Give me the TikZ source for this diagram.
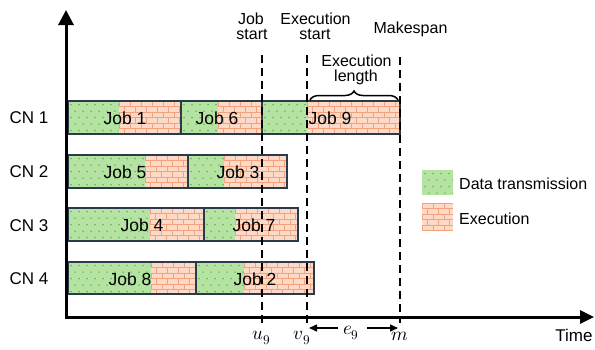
\documentclass[tikz,border=0pt]{standalone}
\usepackage{unicode-math}
\setmainfont{Liberation Sans}
\setmathfont{Latin Modern Math}
\usetikzlibrary{arrows.meta,decorations.pathreplacing}
\definecolor{dtg}{HTML}{B4E3A2}
\definecolor{dtdot}{HTML}{4E9F4E}
\definecolor{exfill}{HTML}{FDDAC8}
\definecolor{exline}{HTML}{F2A27C}
\definecolor{jobline}{HTML}{2B3A4A}
\newcommand\dtbox[4]{%
 \begin{scope}
  \clip (#1,#3) rectangle (#2,#4);
  \fill[dtg] (#1,#3) rectangle (#2,#4);
  \pgfmathtruncatemacro\nn{(#2-#1)/8+1}
  \foreach \j in {0,...,4}{\foreach \i in {0,...,\nn}{
    \fill[dtdot] ({#1+3+\i*8+mod(\j,2)*4},{#3+3.5+\j*6.5}) circle[radius=0.75pt];}}
 \end{scope}}
\newcommand\exbox[4]{%
 \begin{scope}
  \clip (#1,#3) rectangle (#2,#4);
  \fill[exfill] (#1,#3) rectangle (#2,#4);
  \pgfmathtruncatemacro\nn{(#2-#1)/11+1}
  \foreach \j in {0,...,5}{
    \draw[exline,line width=1pt] (#1,{#3+\j*5.5}) -- (#2,{#3+\j*5.5});
    \foreach \i in {0,...,\nn}{
      \draw[exline,line width=1pt] ({#1+\i*11+mod(\j,2)*5.5},{#3+\j*5.5}) -- ++(0,5.5);}}
 \end{scope}}
\tikzset{
  jobbox/.style={draw=jobline,line width=1.1pt},
  lbl/.style={font=\fontsize{16}{16}\selectfont,inner sep=0pt,anchor=base},
  cnlbl/.style={font=\fontsize{17}{17}\selectfont,inner sep=0pt,anchor=base},
  joblbl/.style={font=\fontsize{17.5}{17.5}\selectfont,inner sep=0pt,anchor=base},
  mlbl/.style={font=\fontsize{19}{19}\selectfont,inner sep=0pt,anchor=base},
  guide/.style={line width=2pt,dash pattern=on 8pt off 5pt},
  axis/.style={line width=3pt,line join=miter,{Triangle[width=15pt,length=15pt]}-{Triangle[width=13pt,length=14pt]}},
  span/.style={line width=1.5pt,-{Triangle[width=7pt,length=8pt]}},
}
\begin{document}
\begin{tikzpicture}[x=1pt,y=-1pt]
\useasboundingbox (0,0) rectangle (595,349);
% CN 1
\dtbox{68}{119}{101}{134}\exbox{119}{181}{101}{134}
\dtbox{181}{218}{101}{134}\exbox{218}{262}{101}{134}
\dtbox{262}{307}{101}{134}\exbox{307}{400}{101}{134}
\node[jobbox,inner sep=0pt,minimum width=113pt,minimum height=33pt] (job1) at (124.5,117.5) {};
\node[jobbox,inner sep=0pt,minimum width=81pt,minimum height=33pt] (job6) at (221.5,117.5) {};
\node[jobbox,inner sep=0pt,minimum width=138pt,minimum height=33pt] (job9) at (331,117.5) {};
% CN 2
\dtbox{68}{145}{155}{188}\exbox{145}{188}{155}{188}
\dtbox{188}{224}{155}{188}\exbox{224}{287}{155}{188}
\node[jobbox,inner sep=0pt,minimum width=120pt,minimum height=33pt] (job5) at (128,171.5) {};
\node[jobbox,inner sep=0pt,minimum width=99pt,minimum height=33pt] (job3) at (237.5,171.5) {};
% CN 3
\dtbox{68}{150}{208}{241}\exbox{150}{204}{208}{241}
\dtbox{204}{235}{208}{241}\exbox{235}{298}{208}{241}
\node[jobbox,inner sep=0pt,minimum width=136pt,minimum height=33pt] (job4) at (136,224.5) {};
\node[jobbox,inner sep=0pt,minimum width=94pt,minimum height=33pt] (job7) at (251,224.5) {};
% CN 4
\dtbox{68}{151}{262}{294}\exbox{151}{196}{262}{294}
\dtbox{196}{244}{262}{294}\exbox{244}{314}{262}{294}
\node[jobbox,inner sep=0pt,minimum width=128pt,minimum height=32pt] (job8) at (132,278) {};
\node[jobbox,inner sep=0pt,minimum width=118pt,minimum height=32pt] (job2) at (255,278) {};
% job labels
\node[joblbl] (t1) at (125,124.5) {Job 1};
\node[joblbl] (t6) at (217,124.5) {Job 6};
\node[joblbl] (t9) at (330,124.5) {Job 9};
\node[joblbl] (t5) at (125,178) {Job 5};
\node[joblbl] (t3) at (238,178) {Job 3};
\node[joblbl] (t4) at (142,231.5) {Job 4};
\node[joblbl] (t7) at (254,231.5) {Job 7};
\node[joblbl] (t8) at (130,285) {Job 8};
\node[joblbl] (t2) at (255,285) {Job 2};
% CN labels
\node[cnlbl] (cn1) at (29,123.5) {CN 1};
\node[cnlbl] (cn2) at (29,177.5) {CN 2};
\node[cnlbl] (cn3) at (29,231) {CN 3};
\node[cnlbl] (cn4) at (29,284.5) {CN 4};
% axes
\coordinate (ytip) at (66,10);
\coordinate (orig) at (66,317);
\coordinate (xtip) at (594,317);
\draw[axis] (ytip) -- (orig) -- (xtip);
% guides
\coordinate (ua) at (262,55); \coordinate (ub) at (262,323);
\coordinate (va) at (307,55); \coordinate (vb) at (307,323);
\coordinate (ma) at (400,57); \coordinate (mb) at (400,323);
\draw[guide] (ua) -- (ub);
\draw[guide] (va) -- (vb);
\draw[guide] (ma) -- (mb);
% top labels
\node[lbl] (js1) at (251,24) {Job};
\node[lbl] (js2) at (252,39) {start};
\node[lbl] (es1) at (315.5,24) {Execution};
\node[lbl] (es2) at (315,39) {start};
\node[lbl] (mk) at (410.5,33.5) {Makespan};
\node[lbl] (el1) at (356.5,66) {Execution};
\node[lbl] (el2) at (356,81) {length};
\coordinate (bra) at (310,100); \coordinate (brb) at (398,100);
\draw[line width=1.5pt,decorate,decoration={brace,amplitude=9pt}] (bra) -- (brb);
% bottom labels
\node[mlbl] (u9) at (262,339.5) {$u_9$};
\node[mlbl] (v9) at (302,339.5) {$v_9$};
\node[mlbl] (m) at (400,340.5) {$m$};
\node[mlbl] (e9) at (351,334.5) {$e_9$};
\node[lbl,font=\fontsize{17}{17}\selectfont] (time) at (574,341.5) {Time};
\coordinate (ea) at (338,328); \coordinate (eat) at (309,328);
\coordinate (eb) at (367,328); \coordinate (ebt) at (398,328);
\draw[span] (ea) -- (eat);
\draw[span] (eb) -- (ebt);
% legend
\dtbox{422}{453}{170}{195}
\exbox{422}{453}{203}{230}
\node[lbl,anchor=base west] (lg1) at (459,189) {Data transmission};
\node[lbl,anchor=base west] (lg2) at (459,224) {Execution};
\end{tikzpicture}
\end{document}
